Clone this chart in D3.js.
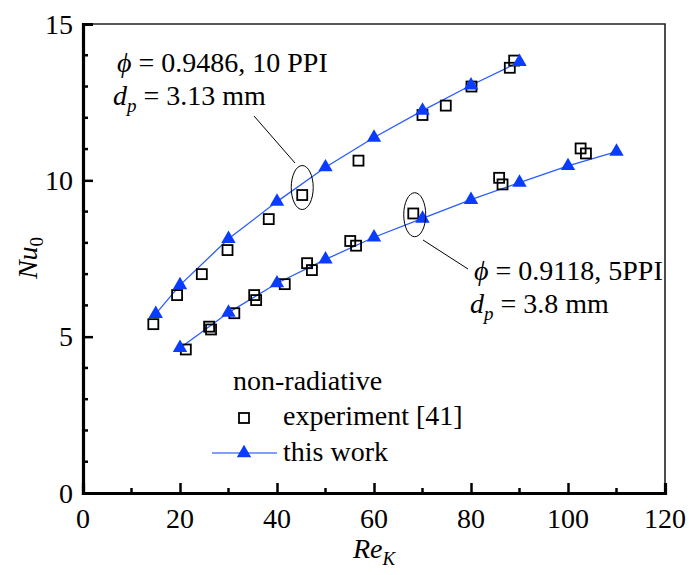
<!DOCTYPE html>
<html>
<head>
<meta charset="utf-8">
<script src="https://cdn.jsdelivr.net/npm/d3@7/dist/d3.min.js"></script>
<style>
  svg#chart text, svg#chart tspan { font-family: "Liberation Serif" !important; }
</style>
</head>
<body style="margin:0">
<svg id="chart" width="689" height="575" font-family="Liberation Serif" style="display:block;background:#fff"></svg>
<script>
// Model results ("this work") — 10 PPI foam
const model10X = [15, 20, 30, 40, 50, 60, 70, 80, 90];
const model10Y = [5.73, 6.65, 8.13, 9.32, 10.42, 11.37, 12.23, 13.04, 13.79];
// Experimental data [41] — 10 PPI foam
const exp10X = [14.5, 19.4, 24.5, 29.8, 38.3, 45.2, 56.8, 70.0, 74.8, 80.1, 88.0, 88.9];
const exp10Y = [5.40, 6.33, 7.00, 7.77, 8.76, 9.53, 10.63, 12.09, 12.39, 13.00, 13.60, 13.83];
// Model results ("this work") — 5 PPI foam
const model5X = [20, 30, 40, 50, 60, 70, 80, 90, 100, 110];
const model5Y = [4.64, 5.77, 6.71, 7.47, 8.18, 8.78, 9.38, 9.93, 10.46, 10.92];
// Experimental data [41] — 5 PPI foam
const exp5X = [21.2, 26.0, 26.4, 31.2, 35.3, 35.7, 41.6, 46.2, 47.2, 55.1, 56.3, 68.1, 85.8, 86.5, 102.6, 103.7];
const exp5Y = [4.59, 5.32, 5.23, 5.75, 6.33, 6.17, 6.68, 7.35, 7.13, 8.06, 7.91, 8.94, 10.08, 9.87, 11.02, 10.86];

// Axis ticks
const xTicks = [0, 20, 40, 60, 80, 100, 120];
const xMinor = [10, 30, 50, 70, 90, 110];
const yTicks = [0, 5, 10, 15];
const yMinor = [1, 2, 3, 4, 6, 7, 8, 9, 11, 12, 13, 14];

const svg = d3.select("#chart");
const L = 83, R = 665, T = 24, B = 493;
const x = d3.scaleLinear().domain([0, 120]).range([L, R]);
const y = d3.scaleLinear().domain([0, 15]).range([B, T]);

const blue = "#0a3cff";
const lineBlue = "#2a5cff";

// text helper: serif face, black
function txt(parent, size) {
  return parent.append("text")
    .style("font-family", '"Liberation Serif"')
    .style("font-size", size + "px")
    .style("fill", "#000");
}

// frame: thin top / right
svg.append("path")
  .attr("d", `M${L},${T}H${R}V${B}`)
  .attr("fill", "none").attr("stroke", "#222").attr("stroke-width", 1.6);

// bottom axis: inward ticks, labels drawn separately
const gx = svg.append("g").attr("transform", `translate(0,${B})`)
  .call(d3.axisBottom(x).tickValues(xTicks).tickSize(-10).tickFormat(""));
gx.append("g").selectAll("line").data(xMinor).join("line")
  .attr("x1", d => x(d)).attr("x2", d => x(d)).attr("y1", 0).attr("y2", -5)
  .attr("stroke", "#000").attr("stroke-width", 2.5);

// left axis
const gy = svg.append("g").attr("transform", `translate(${L},0)`)
  .call(d3.axisLeft(y).tickValues(yTicks).tickSize(-10).tickFormat(""));
gy.append("g").selectAll("line").data(yMinor).join("line")
  .attr("y1", d => y(d)).attr("y2", d => y(d)).attr("x1", 0).attr("x2", 5)
  .attr("stroke", "#000").attr("stroke-width", 2.5);

[gx, gy].forEach(g => {
  g.attr("font-family", null);
  g.select(".domain").attr("stroke", "#000").attr("stroke-width", 3.2);
  g.selectAll(".tick line").attr("stroke", "#000").attr("stroke-width", 2.5);
  g.selectAll(".tick text").remove();
});

// tick labels
xTicks.forEach(v => {
  txt(svg, 28).attr("x", x(v)).attr("y", 528).attr("text-anchor", "middle").text(v);
});
yTicks.forEach(v => {
  txt(svg, 28).attr("x", 73).attr("y", y(v) + 9.5).attr("text-anchor", "end").text(v);
});

// axis titles
const xt = txt(svg, 28).attr("x", 374).attr("y", 558)
  .attr("text-anchor", "middle").style("font-style", "italic");
xt.append("tspan").text("Re");
xt.append("tspan").style("font-size", "19px").attr("dy", 7).text("K");

const yt = txt(svg, 28).attr("transform", "translate(37,258) rotate(-90)")
  .attr("text-anchor", "middle");
yt.append("tspan").style("font-style", "italic").text("Nu");
yt.append("tspan").style("font-size", "19px").attr("dy", 6).text("0");

// model lines
const line = d3.line().x(d => x(d[0])).y(d => y(d[1]));
const series = [
  d3.zip(model10X, model10Y),
  d3.zip(model5X, model5Y)
];
series.forEach(s => {
  svg.append("path").datum(s).attr("d", line)
    .attr("fill", "none").attr("stroke", lineBlue).attr("stroke-width", 1.3);
});

// experimental squares
const exps = d3.zip(exp10X, exp10Y).concat(d3.zip(exp5X, exp5Y));
svg.append("g").selectAll("rect").data(exps).join("rect")
  .attr("x", d => x(d[0]) - 5).attr("y", d => y(d[1]) - 5)
  .attr("width", 10).attr("height", 10)
  .attr("fill", "none").attr("stroke", "#000").attr("stroke-width", 1.8);

// model triangles
const tri = d3.symbol().type(d3.symbolTriangle).size(90);
svg.append("g").selectAll("path").data(series.flat()).join("path")
  .attr("transform", d => `translate(${x(d[0])},${y(d[1])})`)
  .attr("d", tri).attr("fill", blue);

// annotations
function callout(cx, cy, lx1, ly1, lx2, ly2) {
  svg.append("ellipse").attr("cx", cx).attr("cy", cy).attr("rx", 11).attr("ry", 22)
    .attr("fill", "none").attr("stroke", "#000").attr("stroke-width", 1);
  svg.append("line").attr("x1", lx1).attr("y1", ly1).attr("x2", lx2).attr("y2", ly2)
    .attr("stroke", "#000").attr("stroke-width", 1);
}
callout(x(45.2), y(9.77), 295, 163, 254, 116);
callout(x(68.4), y(8.9), 423, 240, 468, 269);

function label(tx, ty, phiText, dpText) {
  const t1 = txt(svg, 28).attr("x", tx).attr("y", ty);
  t1.append("tspan").style("font-style", "italic").text("ϕ");
  t1.append("tspan").text(" = " + phiText);
  const t2 = txt(svg, 28).attr("x", tx - 4).attr("y", ty + 33);
  t2.append("tspan").style("font-style", "italic").text("d");
  t2.append("tspan").style("font-style", "italic").style("font-size", "19px").attr("dy", 7).text("p");
  t2.append("tspan").attr("dy", -7).text(" = " + dpText);
}
label(117, 72, "0.9486, 10 PPI", "3.13 mm");
label(474, 280, "0.9118, 5PPI", "3.8 mm");

// legend
txt(svg, 28).attr("x", 233).attr("y", 390).text("non-radiative");
svg.append("rect").attr("x", 239).attr("y", 413).attr("width", 10).attr("height", 10)
  .attr("fill", "none").attr("stroke", "#000").attr("stroke-width", 1.8);
txt(svg, 28).attr("x", 283).attr("y", 425).text("experiment [41]");
svg.append("line").attr("x1", 212).attr("x2", 277).attr("y1", 453).attr("y2", 453)
  .attr("stroke", "#5a7dff").attr("stroke-width", 1.3);
svg.append("path").attr("transform", "translate(244,453)").attr("d", tri).attr("fill", blue);
txt(svg, 28).attr("x", 283).attr("y", 461).text("this work");
</script>
</body>
</html>
